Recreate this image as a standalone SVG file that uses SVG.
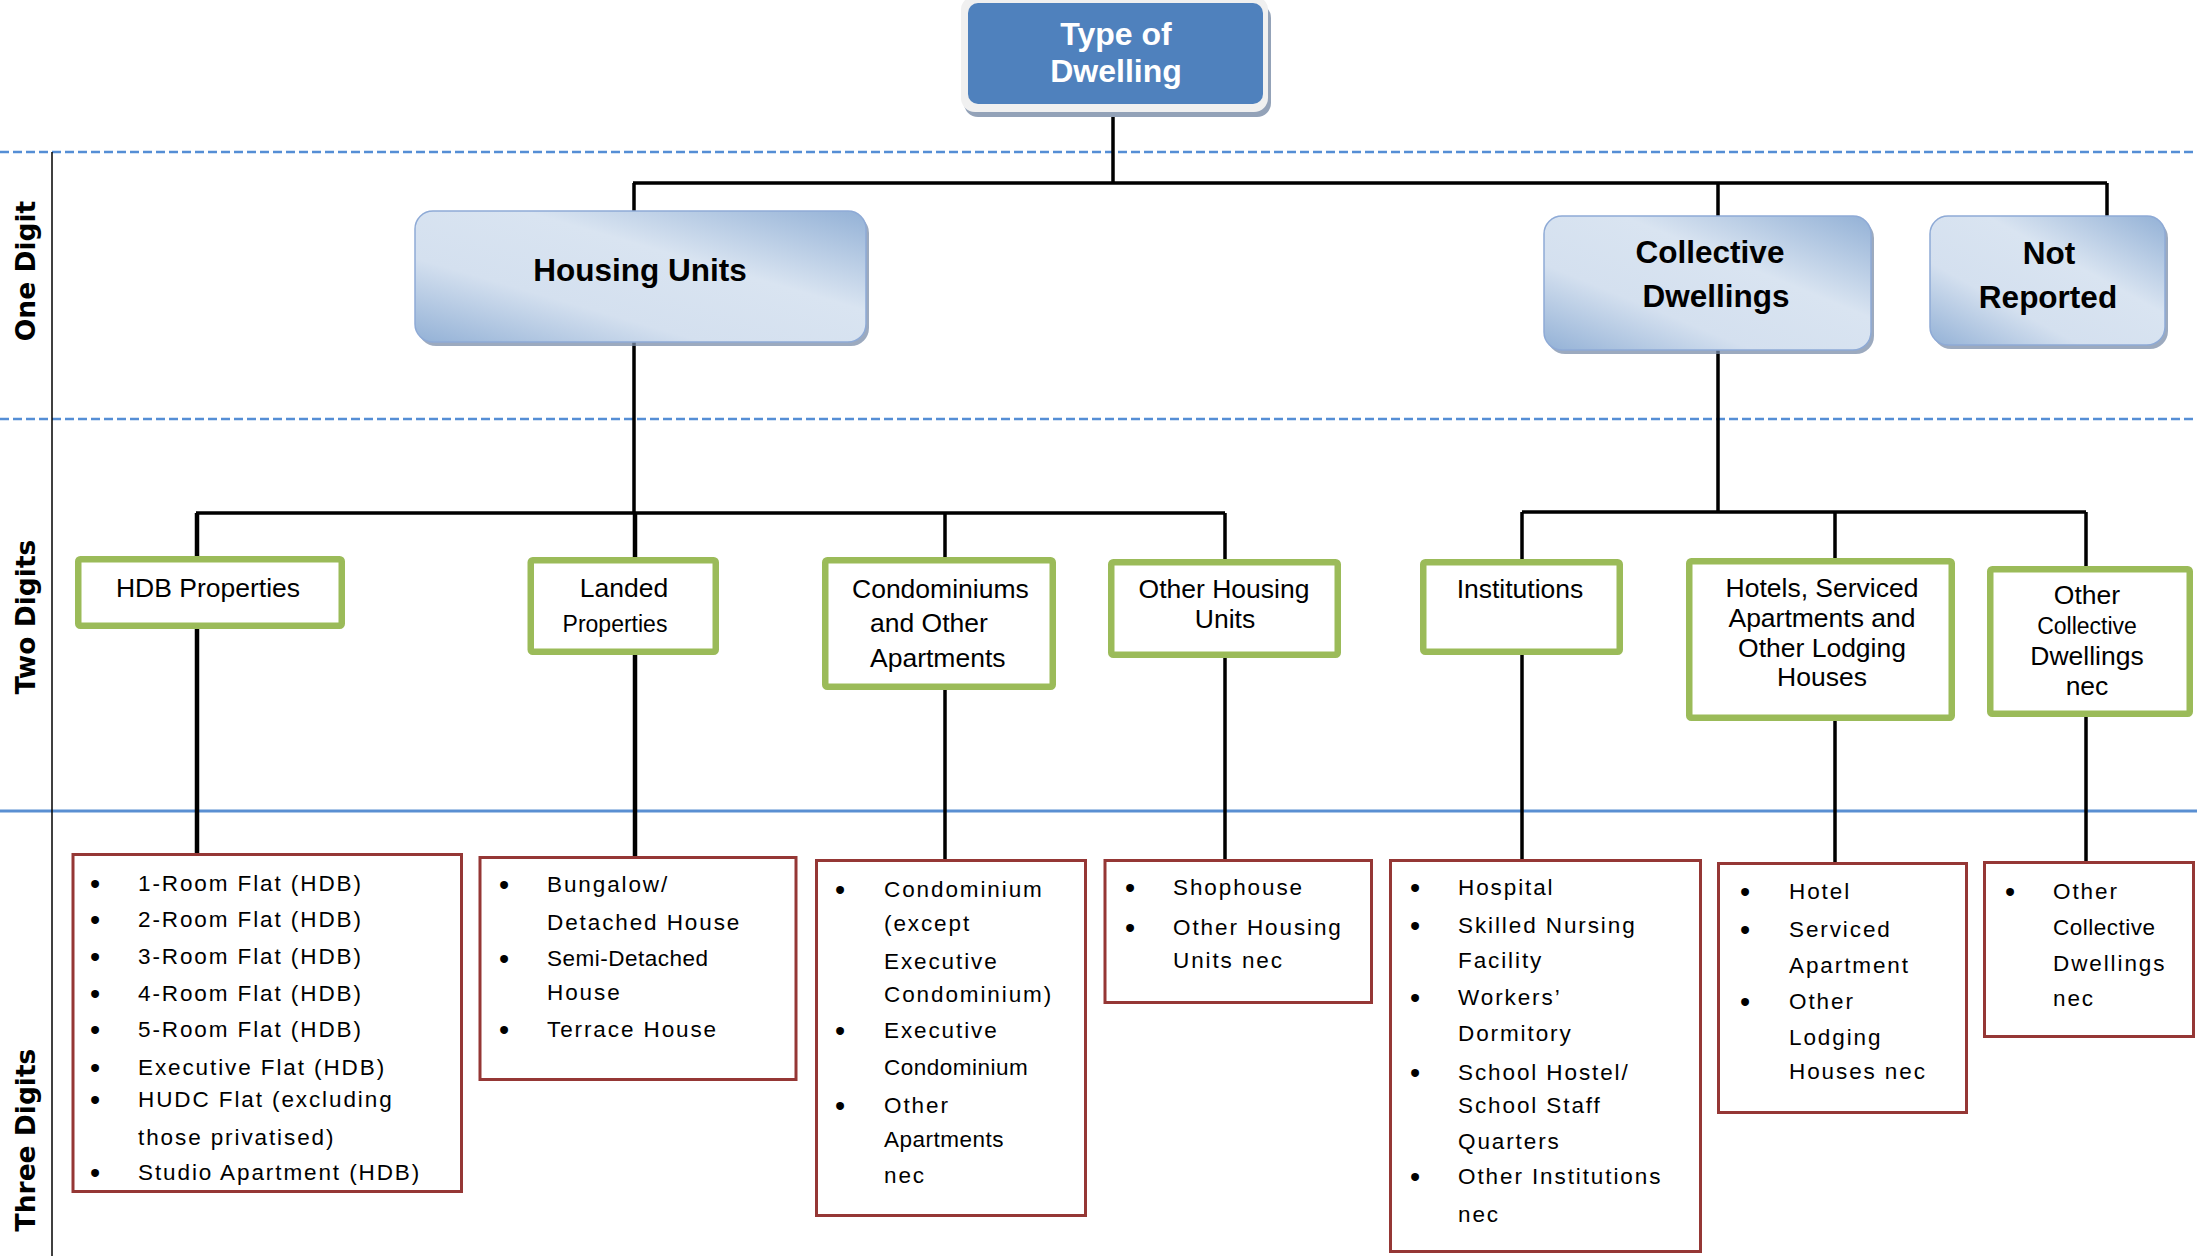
<svg xmlns="http://www.w3.org/2000/svg" width="2197" height="1256" viewBox="0 0 2197 1256">
<defs>
<linearGradient id="g1" x1="0" y1="1" x2="1" y2="0">
<stop offset="0" stop-color="#93b1d6"/>
<stop offset="0.32" stop-color="#d4e0ef"/>
<stop offset="0.62" stop-color="#d9e4f1"/>
<stop offset="1" stop-color="#93b1d6"/>
</linearGradient>
<style>
.t{font-family:"Liberation Sans",Arial,sans-serif;fill:#000}
.l1{font-weight:bold;font-size:31.5px;text-anchor:middle}
.top{font-weight:bold;font-size:32px;text-anchor:middle;fill:#fff}
.l2{font-size:26.5px;text-anchor:middle}
.l2s{font-size:23px;text-anchor:middle}
.li{font-size:22.5px;letter-spacing:1.9px}
.nw{letter-spacing:0.5px}
.bu{font-size:29px;text-anchor:middle}
.row{font-family:"DejaVu Sans",Verdana,sans-serif;font-weight:bold;font-size:26.5px;text-anchor:middle;fill:#000}
.dash{stroke:#558ed5;stroke-width:2.5;stroke-dasharray:9 4;fill:none}
.con{stroke:#000;stroke-width:3.5;fill:none}
.thk{stroke-width:4.5}
.b1{fill:url(#g1);stroke:#8eaad6;stroke-width:1.5}
.sh{fill:#7b8ea9;opacity:0.75}
.b2{fill:#fff;stroke:#9bbb59;stroke-width:6.5}
.b3{fill:#fff;stroke:#953735;stroke-width:3}
</style>
</defs>
<rect width="2197" height="1256" fill="#fff"/>
<g id="guides">
<line class="dash" x1="0" y1="152" x2="2197" y2="152"/>
<line class="dash" x1="0" y1="419" x2="2197" y2="419"/>
<line x1="0" y1="811" x2="2197" y2="811" stroke="#5a8fd2" stroke-width="3"/>
<line x1="52" y1="152" x2="52" y2="1256" stroke="#000" stroke-width="1.5"/>
<text class="row" transform="translate(35,271) rotate(-90)">One Digit</text>
<text class="row" transform="translate(35,617) rotate(-90)">Two Digits</text>
<text class="row" transform="translate(35,1140) rotate(-90)">Three Digits</text>
</g>
<g id="connectors">
<path class="con" d="M1113 110V183M633 183H2107M634 183V513M1718 183V512M2107 183V216"/>
<path class="con" d="M196 513H1225M1522 512H2086"/>
<path class="con thk" d="M197 513V853M635 513V856"/>
<path class="con" d="M945 513V859M1225 513V859M1522 512V859M1835 512V862M2086 512V861"/>
</g>
<g id="n-type">
<rect x="964" y="4" width="307" height="113" rx="14" fill="#93a2b8"/>
<rect x="961" y="-4" width="307" height="116" rx="14" fill="#f0f0f0"/>
<rect x="968" y="3" width="295" height="101" rx="10" fill="#4f81bd"/>
<text class="t top" x="1116" y="45">Type of</text>
<text class="t top" x="1116" y="82">Dwelling</text>
</g>
<g id="n-housing">
<rect class="sh" x="418" y="215" width="451" height="131" rx="18"/>
<rect class="b1" x="415" y="211" width="451" height="131" rx="18"/>
<text class="t l1" x="640" y="281">Housing Units</text>
</g>
<g id="n-collective">
<rect class="sh" x="1547" y="220" width="327" height="134" rx="18"/>
<rect class="b1" x="1544" y="216" width="327" height="134" rx="18"/>
<text class="t l1" x="1710" y="263">Collective</text>
<text class="t l1" x="1716" y="307">Dwellings</text>
</g>
<g id="n-notreported">
<rect class="sh" x="1933" y="220" width="235" height="129" rx="18"/>
<rect class="b1" x="1930" y="216" width="235" height="129" rx="18"/>
<text class="t l1" x="2049" y="264">Not</text>
<text class="t l1" x="2048" y="308">Reported</text>
</g>
<g id="n-hdb">
<rect class="b2" x="78.25" y="559.25" width="263.5" height="66.5" rx="2"/>
<text class="t l2" x="208" y="597">HDB Properties</text>
</g>
<g id="n-landed">
<rect class="b2" x="530.75" y="560.25" width="185" height="91.5" rx="2"/>
<text class="t l2" x="624" y="597">Landed</text>
<text class="t l2s" x="615" y="632">Properties</text>
</g>
<g id="n-condo">
<rect class="b2" x="825.25" y="560.25" width="227.5" height="126.5" rx="2"/>
<text class="t l2" x="852" y="598" style="text-anchor:start">Condominiums</text>
<text class="t l2" x="870" y="632" style="text-anchor:start">and Other</text>
<text class="t l2" x="870" y="667" style="text-anchor:start">Apartments</text>
</g>
<g id="n-otherhousing">
<rect class="b2" x="1111.25" y="562.25" width="226.5" height="92.5" rx="2"/>
<text class="t l2" x="1224" y="598">Other Housing</text>
<text class="t l2" x="1225" y="628">Units</text>
</g>
<g id="n-institutions">
<rect class="b2" x="1423.25" y="562.25" width="196.5" height="89.5" rx="2"/>
<text class="t l2" x="1520" y="598">Institutions</text>
</g>
<g id="n-hotels">
<rect class="b2" x="1689.25" y="561.25" width="262.5" height="156.5" rx="2"/>
<text class="t l2" x="1822" y="597">Hotels, Serviced</text>
<text class="t l2" x="1822" y="627">Apartments and</text>
<text class="t l2" x="1822" y="657">Other Lodging</text>
<text class="t l2" x="1822" y="686">Houses</text>
</g>
<g id="n-othercollective">
<rect class="b2" x="1990.25" y="569.25" width="199.5" height="144.5" rx="2"/>
<text class="t l2" x="2087" y="604">Other</text>
<text class="t l2s" x="2087" y="634">Collective</text>
<text class="t l2" x="2087" y="665">Dwellings</text>
<text class="t l2" x="2087" y="695">nec</text>
</g>
<g id="n-hdb-list">
<rect class="b3" x="73" y="854.5" width="388.5" height="337"/>
<g class="t bu" transform="translate(0,3)">
<text x="95" y="891">•</text><text x="95" y="927">•</text><text x="95" y="964">•</text><text x="95" y="1001">•</text><text x="95" y="1037">•</text><text x="95" y="1075">•</text><text x="95" y="1107">•</text><text x="95" y="1180">•</text>
</g>
<g class="t li">
<text x="138" y="891">1-Room Flat (HDB)</text>
<text x="138" y="927">2-Room Flat (HDB)</text>
<text x="138" y="964">3-Room Flat (HDB)</text>
<text x="138" y="1001">4-Room Flat (HDB)</text>
<text x="138" y="1037">5-Room Flat (HDB)</text>
<text x="138" y="1075">Executive Flat (HDB)</text>
<text x="138" y="1107">HUDC Flat (excluding</text>
<text x="138" y="1145">those privatised)</text>
<text x="138" y="1180">Studio Apartment (HDB)</text>
</g>
</g>
<g id="n-landed-list">
<rect class="b3" x="480" y="857.5" width="316" height="222"/>
<g class="t bu" transform="translate(0,3)">
<text x="504" y="892">•</text><text x="504" y="966">•</text><text x="504" y="1037">•</text>
</g>
<g class="t li">
<text x="547" y="892">Bungalow/</text>
<text x="547" y="930">Detached House</text>
<text x="547" y="966" class="nw">Semi-Detached</text>
<text x="547" y="1000">House</text>
<text x="547" y="1037">Terrace House</text>
</g>
</g>
<g id="n-condo-list">
<rect class="b3" x="816.5" y="860.5" width="269" height="355"/>
<g class="t bu" transform="translate(0,3)">
<text x="840" y="897">•</text><text x="840" y="1038">•</text><text x="840" y="1113">•</text>
</g>
<g class="t li">
<text x="884" y="897">Condominium</text>
<text x="884" y="931">(except</text>
<text x="884" y="969">Executive</text>
<text x="884" y="1002">Condominium)</text>
<text x="884" y="1038">Executive</text>
<text x="884" y="1075" class="nw">Condominium</text>
<text x="884" y="1113">Other</text>
<text x="884" y="1147" class="nw">Apartments</text>
<text x="884" y="1183">nec</text>
</g>
</g>
<g id="n-otherhousing-list">
<rect class="b3" x="1105" y="860.5" width="266.5" height="142"/>
<g class="t bu" transform="translate(0,3)">
<text x="1130" y="895">•</text><text x="1130" y="935">•</text>
</g>
<g class="t li">
<text x="1173" y="895">Shophouse</text>
<text x="1173" y="935">Other Housing</text>
<text x="1173" y="968">Units nec</text>
</g>
</g>
<g id="n-institutions-list">
<rect class="b3" x="1390.5" y="860.5" width="310" height="391"/>
<g class="t bu" transform="translate(0,3)">
<text x="1415" y="895">•</text><text x="1415" y="933">•</text><text x="1415" y="1005">•</text><text x="1415" y="1080">•</text><text x="1415" y="1184">•</text>
</g>
<g class="t li">
<text x="1458" y="895">Hospital</text>
<text x="1458" y="933">Skilled Nursing</text>
<text x="1458" y="968">Facility</text>
<text x="1458" y="1005">Workers’</text>
<text x="1458" y="1041">Dormitory</text>
<text x="1458" y="1080">School Hostel/</text>
<text x="1458" y="1113">School Staff</text>
<text x="1458" y="1149">Quarters</text>
<text x="1458" y="1184">Other Institutions</text>
<text x="1458" y="1222">nec</text>
</g>
</g>
<g id="n-hotels-list">
<rect class="b3" x="1718.5" y="863.5" width="248" height="249"/>
<g class="t bu" transform="translate(0,3)">
<text x="1745" y="899">•</text><text x="1745" y="937">•</text><text x="1745" y="1009">•</text>
</g>
<g class="t li">
<text x="1789" y="899">Hotel</text>
<text x="1789" y="937">Serviced</text>
<text x="1789" y="973">Apartment</text>
<text x="1789" y="1009">Other</text>
<text x="1789" y="1045">Lodging</text>
<text x="1789" y="1079">Houses nec</text>
</g>
</g>
<g id="n-othercollective-list">
<rect class="b3" x="1984.5" y="862.5" width="209" height="174"/>
<g class="t bu" transform="translate(0,3)">
<text x="2010" y="899">•</text>
</g>
<g class="t li">
<text x="2053" y="899">Other</text>
<text x="2053" y="935" class="nw">Collective</text>
<text x="2053" y="971">Dwellings</text>
<text x="2053" y="1006">nec</text>
</g>
</g>
</svg>
